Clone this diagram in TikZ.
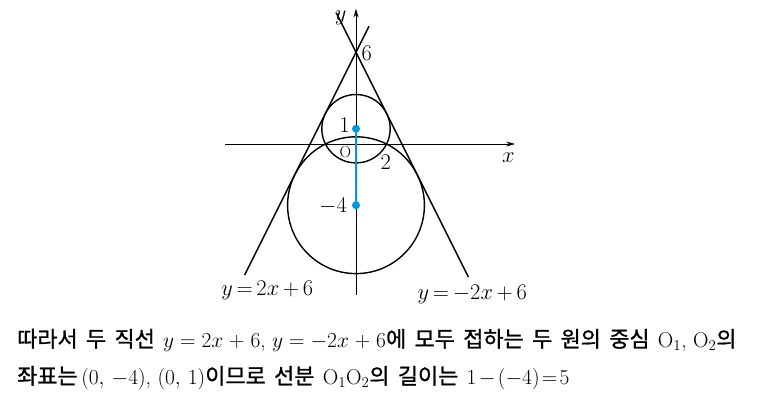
\RequirePackage{fix-cm}
\documentclass[tikz,border=0pt]{standalone}
\usepackage{fontspec}
\newfontfamily\kr[FakeBold=1,WordSpace=1.7]{Noto Sans CJK KR}
\usetikzlibrary{arrows.meta}
\definecolor{cblue}{RGB}{0,150,230}
\newcommand\myeq{\mkern5mu{=}\mkern5mu}
\newcommand\mypl{\mkern5mu{+}\mkern5mu}
\newcommand\teq{\mkern2mu{=}\mkern2mu}
\newcommand\tmi{\mkern2mu{-}\mkern2mu}
\newcommand\K[1]{{\kr\fontsize{22}{22}\selectfont #1}}
\begin{document}
\begin{tikzpicture}[x=1bp,y=-1bp,
  curve/.style={line width=1.4bp,black},
  axis/.style={line width=0.9bp,black,-{Stealth[length=9bp,width=5bp]}},
  lbl/.style={font=\fontsize{22.5}{22.5}\selectfont,inner sep=0pt},
  txt/.style={font=\fontsize{21.5}{21.5}\selectfont,inner sep=0pt,anchor=base west},
  dot/.style={circle,fill=cblue,inner sep=0pt,minimum size=8bp}]
\useasboundingbox (0,0) rectangle (783,414);
\fill[white] (0,0) rectangle (783,414);
\begin{scope}[shift={(356,144)},x=15.3bp,y=15.3bp]
  % axes
  \draw[axis] (-8.56,0) -- (10.4,0);
  \draw[axis] (0,-9.87) -- (0,8.85);
  % tangent lines
  \coordinate (a1) at (-7.28,-8.56);
  \coordinate (a2) at (0.85,7.7);
  \coordinate (b1) at (7.35,-8.7);
  \coordinate (b2) at (-1.28,8.56);
  \draw[curve] (a1) -- (a2);
  \draw[curve] (b1) -- (b2);
  % circles
  \coordinate (c1) at (0,1);
  \coordinate (c2) at (0,-4);
  \draw[curve] (c1) circle [radius=34.2bp];
  \draw[curve] (c2) circle [radius=68.4bp];
  % segment
  \node[dot] (d1) at (c1) {};
  \node[dot] (d2) at (c2) {};
  \draw[cblue,line width=1.4bp] (d1.center) -- (d2.center);
  % labels
  \node[lbl] (ly) at (-1.0,8.25) {$y$};
  \node[lbl] (lx) at (9.95,-0.9) {$x$};
  \node[lbl] (l6) at (0.7,5.95) {$6$};
  \node[lbl] (l1) at (-0.75,1.25) {$1$};
  \node[lbl] (l2) at (1.95,-1.2) {$2$};
  \node[lbl] (lm4) at (-1.5,-4.05) {$-4$};
  \node[inner sep=0pt,font=\fontsize{16}{16}\selectfont] (lo) at (-0.7,-0.55) {O};
  \node[lbl] (la) at (-5.8,-9.55) {$y\mkern3mu{=}\mkern3mu2x\mkern3mu{+}\mkern3mu6$};
  \node[lbl] (lb) at (7.6,-9.85) {$y\mkern3mu{=}\mkern3mu{-}2x\mkern3mu{+}\mkern3mu6$};
\end{scope}
\node[txt] (t1) at (17,347) {\K{따라서 두 직선 }$y\myeq 2x\mypl 6$, $y\myeq{-}2x\mypl 6$\K{에 모두 접하는 두 원의 중심 }$\mathrm{O}_1$, $\mathrm{O}_2$\K{의}};
\node[txt] (t2) at (17,384) {\K{좌표는}\,$(0,\,{-}4)$, $(0,\,1)$\K{이므로 선분 }$\mathrm{O}_1\mathrm{O}_2$\K{의 길이는 }$1\tmi({-}4)\teq 5$};
\end{tikzpicture}
\end{document}
